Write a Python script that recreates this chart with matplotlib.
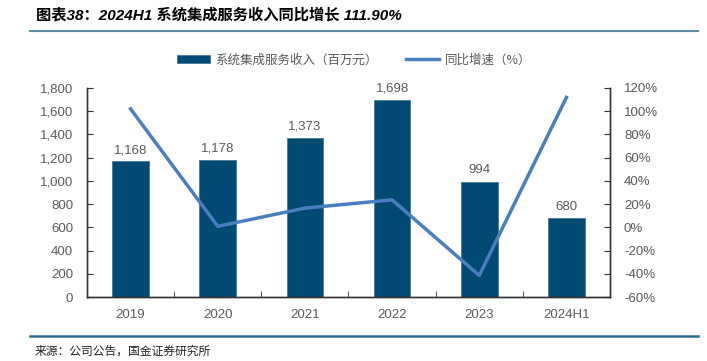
import matplotlib
matplotlib.use("Agg")
import matplotlib.pyplot as plt
from matplotlib.ticker import FuncFormatter, FixedLocator

plt.rcParams['font.family'] = ['Liberation Sans', 'Noto Sans CJK SC', 'DejaVu Sans']

categories = ["2019", "2020", "2021", "2022", "2023", "2024H1"]
revenue = [1168, 1178, 1373, 1698, 994, 680]
growth = [102.0, 0.86, 16.55, 23.67, -41.46, 111.90]
bar_labels = ["1,168", "1,178", "1,373", "1,698", "994", "680"]

title = "图表38：2024H1 系统集成服务收入同比增长 111.90%"
source = "来源：公司公告，国金证券研究所"
legend_bar = "系统集成服务收入（百万元）"
legend_line = "同比增速（%）"

bar_color = "#004a73"
line_color = "#4a7fbf"
grey = "#595959"

fig = plt.figure(figsize=(7.07, 3.61), dpi=100)
ax = fig.add_axes([87/707, 1-297/361, (610-87)/707, (297-88)/361])
ax2 = ax.twinx()

x = list(range(len(categories)))
bars = ax.bar(x, revenue, width=0.42, color=bar_color, edgecolor="#3a6f90", linewidth=0.5, zorder=2, label=legend_bar)
for xi, v, lab in zip(x, revenue, bar_labels):
    ax.text(xi, v + 45, lab, ha="center", va="bottom", fontsize=9.5, color=grey)

ax.set_xlim(-0.5, len(categories) - 0.5)
ax.set_ylim(0, 1800)
ax.set_yticks(range(0, 1801, 200))
ax.yaxis.set_major_formatter(FuncFormatter(lambda v, p: f"{int(v):,}"))
ax.set_xticks(x)
ax.set_xticklabels(categories)
ax.xaxis.set_minor_locator(FixedLocator([i + 0.5 for i in range(len(categories) - 1)]))
ax.tick_params(axis="x", which="major", length=0, labelsize=9.5, labelcolor=grey, pad=9)
ax.tick_params(axis="x", which="minor", direction="in", length=4, color="#333333")
ax.tick_params(axis="y", direction="in", length=4, labelsize=9.5, labelcolor=grey, color="#333333", pad=10)

(ln,) = ax2.plot(x, growth, color=line_color, linewidth=2.5, zorder=3, label=legend_line)
ax2.set_ylim(-60, 120)
ax2.set_yticks(range(-60, 121, 20))
ax2.yaxis.set_major_formatter(FuncFormatter(lambda v, p: f"{int(v)}%"))
ax2.tick_params(axis="y", direction="in", length=4, labelsize=9.5, labelcolor=grey, color="#333333", pad=10)

for a in (ax, ax2):
    a.spines["top"].set_visible(False)
    for s in ("left", "right", "bottom"):
        a.spines[s].set_color("#333333")
        a.spines[s].set_linewidth(1.0)

leg = fig.legend([bars, ln], [legend_bar, legend_line], loc="center", bbox_to_anchor=(354/707, 1-60/361),
                 ncol=2, frameon=False, prop={'family': ['Noto Sans CJK SC', 'DejaVu Sans'], 'size': 9},
                 labelcolor=grey, handlelength=2.6, handleheight=0.6,
                 columnspacing=2.3, handletextpad=0.45)

fig.text(36/707, 1-15/361, title, fontsize=11, fontweight="bold", fontstyle="italic", va="center", ha="left",
         color="black", family=['Liberation Sans', 'Noto Sans CJK SC'])
fig.add_artist(plt.Line2D([30/707, 698/707], [1-31/361, 1-31/361], color="#5a8ca8", linewidth=1.5))
fig.add_artist(plt.Line2D([30/707, 698/707], [1-336/361, 1-336/361], color="#2a6a8f", linewidth=1.8))
fig.text(35/707, 1-351/361, source, fontsize=8.5, va="center", ha="left", color="#222222",
         family=['Noto Sans CJK SC', 'DejaVu Sans'])

fig.savefig("out.png", dpi=100)
